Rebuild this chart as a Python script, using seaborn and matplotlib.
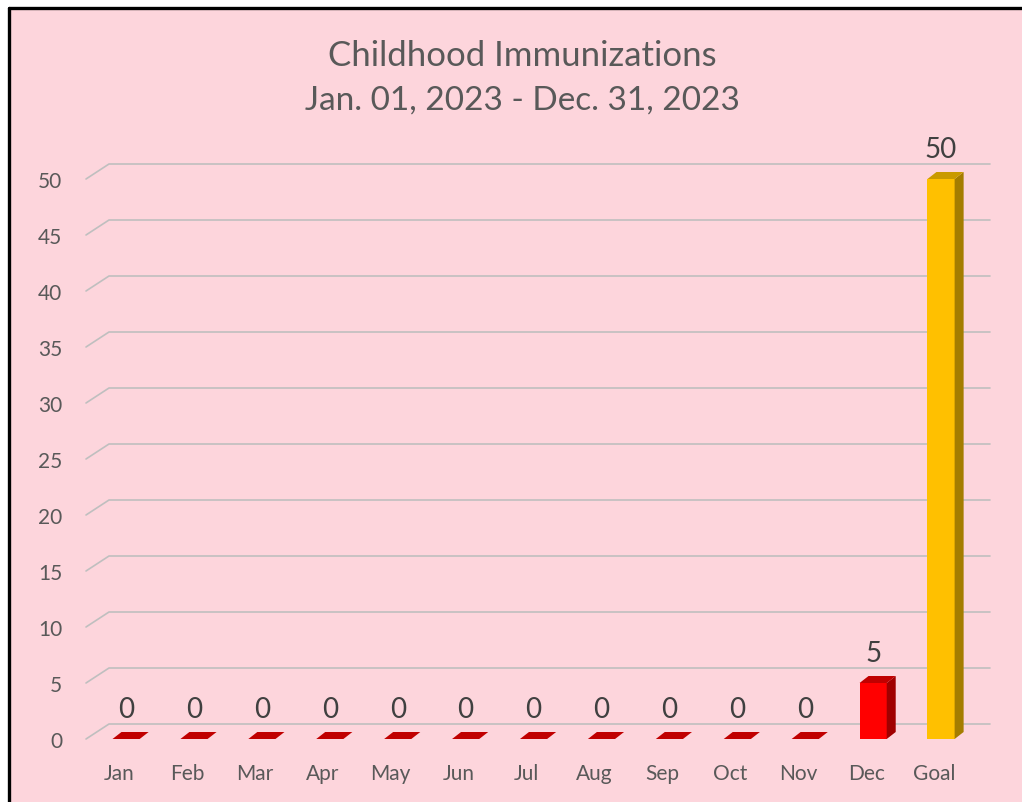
import pandas as pd
import matplotlib.pyplot as plt
import matplotlib.transforms as mtransforms
from matplotlib.patches import Polygon, Rectangle
from matplotlib.lines import Line2D
import seaborn as sns

# Chart data
months = ['Jan', 'Feb', 'Mar', 'Apr', 'May', 'Jun', 'Jul', 'Aug', 'Sep', 'Oct', 'Nov', 'Dec', 'Goal']
counts = [0, 0, 0, 0, 0, 0, 0, 0, 0, 0, 0, 5, 50]
y_ticks = [0, 5, 10, 15, 20, 25, 30, 35, 40, 45, 50]
title_1 = 'Childhood Immunizations'
title_2 = 'Jan. 01, 2023 - Dec. 31, 2023'

front_colors = ['#FF0000'] * 12 + ['#FFC000']
top_colors = ['#C00000'] * 12 + ['#C99A00']
side_colors = ['#A00000'] * 12 + ['#A47D00']

df = pd.DataFrame({'Month': months, 'Count': counts})

sns.set_style('white')
plt.rcParams['font.family'] = ['Lato', 'DejaVu Sans']

fig = plt.figure(figsize=(10.22, 8.03), dpi=100)
fig.patch.set_facecolor('#FDD5DC')

# white strip outside the chart frame, black top/left border
fig.patches.append(Rectangle((0, 0), 8 / 1022, 1, transform=fig.transFigure,
                             facecolor='white', edgecolor='none', zorder=-1))
fig.patches.append(Rectangle((0, 1 - 8 / 803), 1, 8 / 803, transform=fig.transFigure,
                             facecolor='white', edgecolor='none', zorder=-1))
fig.lines.append(Line2D([9 / 1022, 9 / 1022], [0, 1 - 9 / 803], transform=fig.transFigure,
                        color='black', lw=2.4))
fig.lines.append(Line2D([9 / 1022, 1], [1 - 9 / 803, 1 - 9 / 803], transform=fig.transFigure,
                        color='black', lw=2.4))

ax = fig.add_axes([86 / 1022, 63 / 803, 889 / 1022, 560 / 803])
ax.set_facecolor('none')

sns.barplot(data=df, x='Month', y='Count', hue='Month', palette=front_colors,
            legend=False, width=0.4, saturation=1, linewidth=0, ax=ax, zorder=3)
ax.set_xlim(-0.59, 12.5)
ax.set_ylim(0, 50)
ax.set_yticks(y_ticks)
ax.set_xlabel('')
ax.set_ylabel('')
for s in ax.spines.values():
    s.set_visible(False)
ax.tick_params(axis='y', length=0, pad=17, labelsize=15, labelcolor='#595959')
ax.tick_params(axis='x', length=0, pad=17, labelsize=15, labelcolor='#595959')
for lbl in ax.get_xticklabels():
    lbl.set_transform(lbl.get_transform() + mtransforms.ScaledTranslation(-7 / 100, 0, fig.dpi_scale_trans))

fig.canvas.draw()
ident = mtransforms.IdentityTransform()

# 3D-look gridlines: diagonal from front corner, then along back wall
gdx, gdy = 23, 15
x_end = 990
for v in y_ticks:
    x0, y0 = ax.transData.transform((ax.get_xlim()[0], v))
    ax.add_line(Line2D([x0, x0 + gdx, x_end], [y0, y0 + gdy, y0 + gdy], transform=ident,
                       color='#BFBFBF', lw=1.2, clip_on=False, zorder=1))

# side and top faces of the columns
bdx, bdy = 9, 7
for i, p in enumerate(ax.patches):
    (bx0, by0), (bx1, by1) = ax.transData.transform([(p.get_x(), p.get_y()),
                                                     (p.get_x() + p.get_width(), p.get_y() + p.get_height())])
    side = Polygon([(bx1, by0), (bx1 + bdx, by0 + bdy), (bx1 + bdx, by1 + bdy), (bx1, by1)],
                   closed=True, transform=ident, facecolor=side_colors[i], edgecolor='none',
                   clip_on=False, zorder=3)
    top = Polygon([(bx0, by1), (bx1, by1), (bx1 + bdx, by1 + bdy), (bx0 + bdx, by1 + bdy)],
                  closed=True, transform=ident, facecolor=top_colors[i], edgecolor='none',
                  clip_on=False, zorder=4)
    ax.add_patch(side)
    ax.add_patch(top)

for c in ax.containers:
    ax.bar_label(c, fmt='%d', padding=12, fontsize=20, color='#404040')

fig.text(522 / 1022, 1 - 56 / 803, title_1, ha='center', va='center', fontsize=25, color='#595959')
fig.text(522 / 1022, 1 - 101 / 803, title_2, ha='center', va='center', fontsize=24, color='#595959')

fig.savefig('out.png', dpi=100, facecolor=fig.get_facecolor())
